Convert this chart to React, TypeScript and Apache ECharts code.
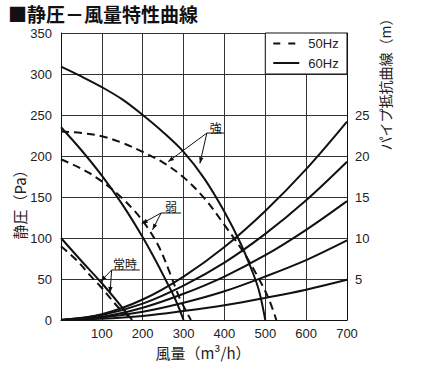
import React, { useEffect, useRef } from "react";
import * as echarts from "echarts";

// ---- data ----
const xTicks = [0, 100, 200, 300, 400, 500, 600, 700];
const rightTicks = [5, 10, 15, 20, 25];

// fan curves [flow m3/h, static pressure Pa]
const strong60: [number, number][] = [
  [0, 309], [50, 297], [100, 284], [150, 269], [200, 250], [250, 229], [300, 205],
  [350, 173], [400, 132], [440, 93], [470, 57], [485, 35], [500, 0],
];
const strong50: [number, number][] = [
  [0, 230], [50, 228], [100, 224], [150, 216], [200, 205], [250, 192], [300, 174],
  [350, 149], [400, 116], [450, 80], [490, 45], [510, 24], [527, 0],
];
const weak60: [number, number][] = [
  [0, 235], [50, 207], [100, 176], [150, 141], [200, 101], [230, 74], [255, 50], [280, 25], [300, 0],
];
const weak50: [number, number][] = [
  [0, 196], [40, 187], [70, 179], [100, 169], [140, 153], [180, 133], [210, 114],
  [240, 89], [266, 58], [291, 26], [318, 0],
];
const normal60: [number, number][] = [
  [0, 100], [50, 72], [98, 46], [147, 17], [174, 0],
];
const normal50: [number, number][] = [
  [0, 90], [40, 72], [70, 55], [100, 39], [120, 27], [145, 13], [177, 0],
];

// pipe resistance curves (Pa) at the flows in pipeFlow
const pipeFlow = [0, 100, 200, 300, 400, 500, 600, 700];
const pipe25m = [0, 7, 25, 53, 89, 133, 184, 242];
const pipe20m = [0, 6, 20, 42, 70, 105, 146, 193];
const pipe15m = [0, 4, 15, 32, 53, 79, 110, 145];
const pipe10m = [0, 3, 10, 21, 35, 53, 73, 97];
const pipe5m = [0, 1.5, 5, 11, 18, 27, 37, 49];

// annotation anchors, in data coordinates
const annotations = [
  { text: "強", center: [379, 235], under: [[399, 228], [357, 228]], tips: [[262, 193], [340, 191]] },
  { text: "弱", center: [269, 139], under: [[294, 130.5], [245, 130.5]], tips: [[197.5, 117.5], [224, 110]] },
  { text: "常時", center: [156.6, 69.5], under: [[193, 61], [124, 61]], tips: [[97, 47], [120, 33]] },
];

const NUM = "'Liberation Sans', Arial, 'Noto Sans CJK JP', sans-serif";
const CJK = "'Noto Sans CJK JP', 'Liberation Sans', sans-serif";
const INK = "#111";

export default function App() {
  const ref = useRef<HTMLDivElement>(null);
  useEffect(() => {
    const chart = echarts.init(ref.current!, undefined, { renderer: "svg" });
    const line = (name: string, data: any[], dashed: boolean) => ({
      type: "line",
      name,
      data,
      symbol: "none",
      showSymbol: false,
      smooth: 0.35,
      silent: true,
      lineStyle: { color: INK, width: 2, type: dashed ? [8, 5] : "solid" },
    });
    const pipe = (name: string, vals: number[]) =>
      line(name, pipeFlow.map((q, i) => [q, vals[i]]), false);

    chart.setOption({
      animation: false,
      grid: { left: 61, right: 81, top: 33, bottom: 48 },
      xAxis: {
        type: "value", min: 0, max: 700, interval: 100,
        axisLine: { show: true, lineStyle: { color: INK, width: 1 } },
        axisTick: { show: false },
        splitLine: { show: true, lineStyle: { color: "#333", width: 1 } },
        axisLabel: {
          formatter: (v: number) => (v === 0 || !xTicks.includes(v) ? "" : String(v)),
          color: "#222", fontSize: 13, fontFamily: NUM, margin: 7,
        },
      },
      yAxis: [
        {
          type: "value", min: 0, max: 350, interval: 50,
          axisLine: { show: true, lineStyle: { color: INK, width: 1 } },
          axisTick: { show: false },
          splitLine: { show: true, lineStyle: { color: "#333", width: 1 } },
          axisLabel: { color: "#222", fontSize: 13, fontFamily: NUM, margin: 9 },
        },
        {
          type: "value", position: "right", min: 0, max: 35, interval: 5,
          axisLine: { show: true, lineStyle: { color: INK, width: 1 } },
          axisTick: { show: false },
          splitLine: { show: false },
          axisLabel: {
            formatter: (v: number) => (rightTicks.includes(v) ? String(v) : ""),
            color: "#222", fontSize: 13, fontFamily: NUM, margin: 8,
          },
        },
      ],
      series: [
        line("60Hz 強", strong60, false),
        line("50Hz 強", strong50, true),
        line("60Hz 弱", weak60, false),
        line("50Hz 弱", weak50, true),
        line("60Hz 常時", normal60, false),
        line("50Hz 常時", normal50, true),
        pipe("25m", pipe25m),
        pipe("20m", pipe20m),
        pipe("15m", pipe15m),
        pipe("10m", pipe10m),
        pipe("5m", pipe5m),
      ],
    });

    const px = (p: number[]) =>
      chart.convertToPixel({ xAxisIndex: 0, yAxisIndex: 0 }, p) as number[];

    const g: any[] = [];
    // title
    g.push({
      type: "text", x: 8, y: 13, z: 100,
      style: { text: "■静圧－風量特性曲線", fill: INK, fontSize: 19, fontWeight: "bold", fontFamily: CJK, align: "left", verticalAlign: "middle" },
    });
    // axis names
    g.push({
      type: "text", x: 19, y: 201, rotation: Math.PI / 2, z: 100,
      style: { text: "静圧（Pa）", fill: "#222", fontSize: 15, fontFamily: CJK, align: "center", verticalAlign: "middle" },
    });
    g.push({
      type: "text", x: 385, y: 81, rotation: Math.PI / 2, z: 100,
      style: { text: "パイプ抵抗曲線（m）", fill: "#222", fontSize: 14, fontFamily: CJK, align: "center", verticalAlign: "middle" },
    });
    g.push({
      type: "text", x: 203, y: 352, z: 100,
      style: { text: "風量（m³/h）", fill: "#222", fontSize: 15, fontFamily: CJK, align: "center", verticalAlign: "middle" },
    });
    // legend box in the 500-700 / 300-350 cell
    const a = px([500, 350]);
    const b = px([700, 300]);
    g.push({
      type: "rect", z: 100,
      shape: { x: a[0], y: a[1], width: b[0] - a[0], height: b[1] - a[1] },
      style: { fill: "#fff", stroke: INK, lineWidth: 1 },
    });
    const ly1 = a[1] + 10.5, ly2 = a[1] + 30;
    g.push({ type: "line", z: 101, shape: { x1: a[0] + 8, y1: ly1, x2: a[0] + 31, y2: ly1 }, style: { stroke: INK, lineWidth: 2, lineDash: [7, 8] } });
    g.push({ type: "line", z: 101, shape: { x1: a[0] + 8, y1: ly2, x2: a[0] + 34, y2: ly2 }, style: { stroke: INK, lineWidth: 2 } });
    g.push({ type: "text", z: 101, x: a[0] + 43, y: ly1, style: { text: "50Hz", fill: "#222", fontSize: 13, fontFamily: NUM, align: "left", verticalAlign: "middle" } });
    g.push({ type: "text", z: 101, x: a[0] + 43, y: ly2, style: { text: "60Hz", fill: "#222", fontSize: 13, fontFamily: NUM, align: "left", verticalAlign: "middle" } });

    // annotations
    annotations.forEach((an) => {
      const c = px(an.center);
      const u0 = px(an.under[0]);
      const u1 = px(an.under[1]);
      g.push({ type: "text", z: 101, x: c[0], y: c[1], style: { text: an.text, fill: INK, fontSize: 12, fontFamily: CJK, align: "center", verticalAlign: "middle", backgroundColor: "#fff" } });
      g.push({ type: "line", z: 101, shape: { x1: u0[0], y1: u0[1], x2: u1[0], y2: u1[1] }, style: { stroke: INK, lineWidth: 1 } });
      an.tips.forEach((t) => {
        const tp = px(t);
        g.push({ type: "line", z: 101, shape: { x1: u1[0], y1: u1[1], x2: tp[0], y2: tp[1] }, style: { stroke: INK, lineWidth: 1 } });
        const dx = tp[0] - u1[0], dy = tp[1] - u1[1];
        const len = Math.hypot(dx, dy) || 1;
        const ux = dx / len, uy = dy / len;
        const L = 6, W = 2.2;
        const bx = tp[0] - ux * L, by = tp[1] - uy * L;
        g.push({
          type: "polygon", z: 101,
          shape: { points: [[tp[0], tp[1]], [bx - uy * W, by + ux * W], [bx + uy * W, by - ux * W]] },
          style: { fill: INK },
        });
      });
    });

    chart.setOption({ graphic: g });
    return () => chart.dispose();
  }, []);
  return (
    <div
      ref={ref}
      style={{ position: "fixed", left: 0, top: 0, width: 428, height: 368, background: "#fff" }}
    />
  );
}
